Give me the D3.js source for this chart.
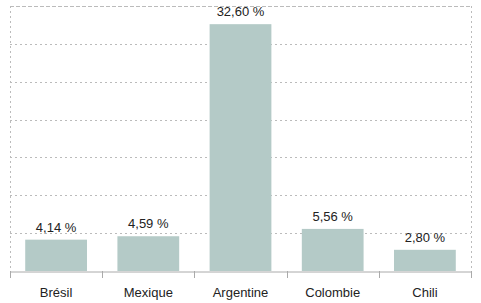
<!DOCTYPE html>
<html><head><meta charset="utf-8">
<script src="https://cdn.jsdelivr.net/npm/d3@7"></script>
<style>body{margin:0;background:#fff}svg{display:block}</style>
</head><body>
<script>
const categories = ["Brésil", "Mexique", "Argentine", "Colombie", "Chili"];
const values = [4.14, 4.59, 32.60, 5.56, 2.80];
const valueLabels = ["4,14 %", "4,59 %", "32,60 %", "5,56 %", "2,80 %"];
const yTicks = [0, 5, 10, 15, 20, 25, 30, 35];

const W = 481, H = 303;
const m = {l: 10, r: 10, t: 6, b: 32};
const svg = d3.select("body").append("svg").attr("width", W).attr("height", H);
const x = d3.scaleBand().domain(categories).range([m.l, W - m.r]).paddingInner(0.33).paddingOuter(0.165);
const y = d3.scaleLinear().domain([0, 35]).range([H - m.b, m.t]);
const font = "'Liberation Sans', Arial, sans-serif";

// gridlines
svg.append("g").selectAll("line").data(yTicks.slice(1, -1)).join("line")
  .attr("x1", m.l).attr("x2", W - m.r)
  .attr("y1", d => Math.round(y(d)) + 0.5).attr("y2", d => Math.round(y(d)) + 0.5)
  .attr("stroke", "#bbb").attr("stroke-dasharray", "2,3");
// top border
svg.append("line").attr("x1", m.l).attr("x2", W - m.r)
  .attr("y1", Math.round(y(35)) + 0.5).attr("y2", Math.round(y(35)) + 0.5)
  .attr("stroke", "#bbb").attr("stroke-dasharray", "4,2");
// side borders
[m.l, W - m.r].forEach(xx => svg.append("line").attr("x1", xx + 0.5).attr("x2", xx + 0.5)
  .attr("y1", m.t).attr("y2", H - m.b).attr("stroke", "#bbb").attr("stroke-dasharray", "2,3"));

// bars
svg.append("g").selectAll("rect").data(values).join("rect")
  .attr("x", (d, i) => x(categories[i])).attr("width", x.bandwidth())
  .attr("y", d => y(d)).attr("height", d => y(0) - y(d))
  .attr("fill", "#b4cac7");

// value labels
svg.append("g").selectAll("text").data(values).join("text")
  .attr("x", (d, i) => x(categories[i]) + x.bandwidth() / 2)
  .attr("y", d => y(d) - 8)
  .attr("text-anchor", "middle").attr("font-family", font).attr("font-size", 13)
  .attr("fill", "#222").text((d, i) => valueLabels[i]);

// x axis
const xb = d3.scaleBand().domain(categories).range([m.l, W - m.r]);
const ax = svg.append("g").attr("transform", `translate(0,${H - m.b + 0.5})`)
  .call(d3.axisBottom(xb).tickSize(0).tickPadding(16));
ax.select(".domain").attr("stroke", "#aaa");
ax.selectAll("text").attr("font-family", font).attr("font-size", 13).attr("fill", "#222");
// separator ticks
const seps = categories.map(c => xb(c)).concat([W - m.r]);
svg.append("g").selectAll("line").data(seps).join("line")
  .attr("x1", d => Math.round(d) + 0.5).attr("x2", d => Math.round(d) + 0.5)
  .attr("y1", H - m.b).attr("y2", H - m.b + 7).attr("stroke", "#aaa");
</script>
</body></html>
